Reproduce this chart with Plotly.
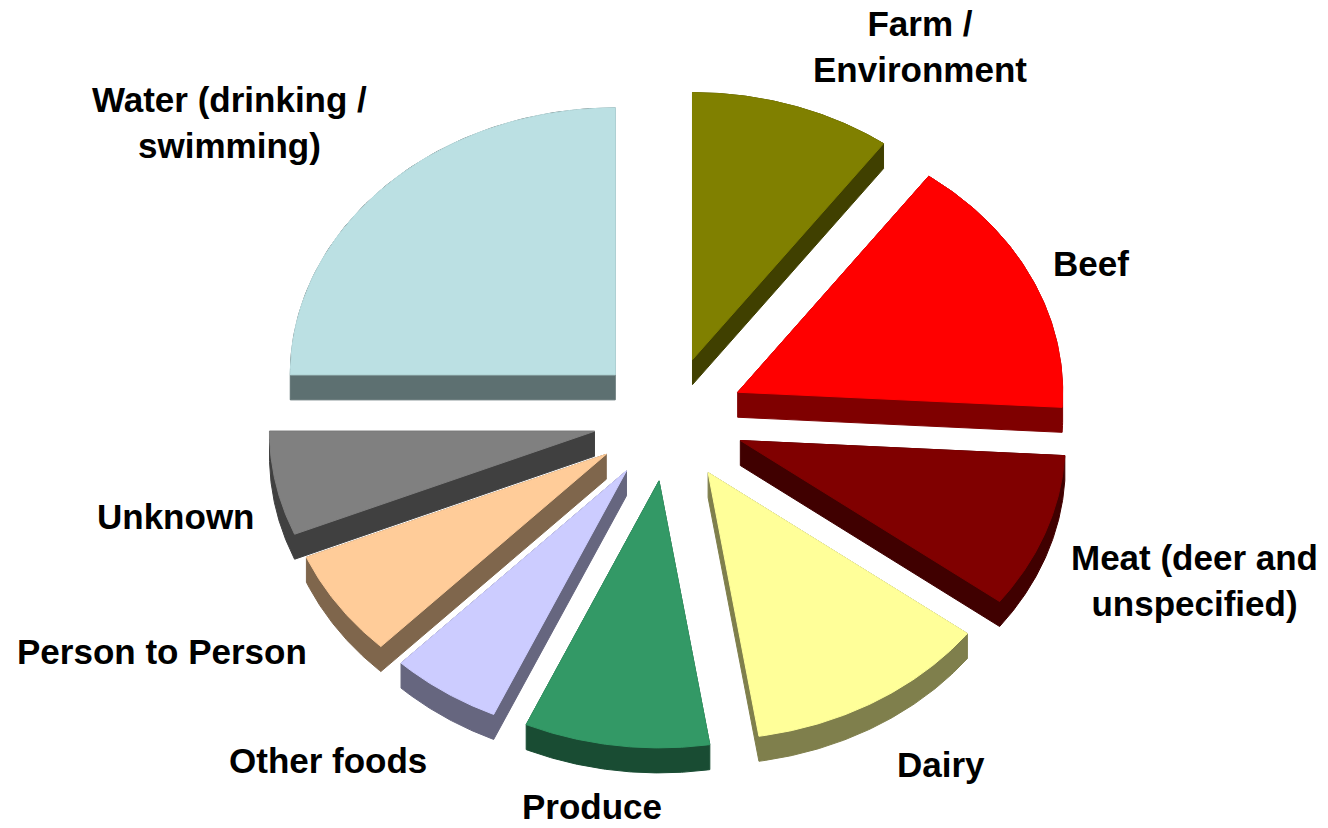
import numpy as np
import plotly.graph_objects as go

# ---- data ----
categories = ["Farm /<br>Environment", "Beef", "Meat (deer and<br>unspecified)", "Dairy",
              "Produce", "Other foods", "Person to Person", "Unknown",
              "Water (drinking /<br>swimming)"]
shares = [10.0, 15.9, 9.4, 12.2, 9.2, 5.5, 6.5, 6.3, 25.0]
colors = ["#808000", "#FF0000", "#800000", "#FFFF99", "#339966", "#CCCCFF",
          "#FFCC99", "#808080", "#BBE0E3"]

# ---- geometry / style (layout only) ----
W, H = 1328, 828
CX, CY = 669, 419
RX, RY = 325, 267
EXPLODE = 76
DEPTH = 25
label_pos = [(920, 46), (1091, 263), (1194, 580), (941, 764), (592, 806),
             (328, 760), (162, 651), (175, 516), (229, 122)]
FONT = dict(family="Liberation Sans, Arial, sans-serif", size=35, color="black")


def darken(hexc, f=0.5):
    h = hexc.lstrip("#")
    r, g, b = (int(h[i:i + 2], 16) for i in (0, 2, 4))
    return "rgb(%d,%d,%d)" % (r * f, g * f, b * f)


def hull(pts):
    pts = sorted(set(pts))
    def cross(o, a, b):
        return (a[0] - o[0]) * (b[1] - o[1]) - (a[1] - o[1]) * (b[0] - o[0])
    lower, upper = [], []
    for p in pts:
        while len(lower) >= 2 and cross(lower[-2], lower[-1], p) <= 0:
            lower.pop()
        lower.append(p)
    for p in reversed(pts):
        while len(upper) >= 2 and cross(upper[-2], upper[-1], p) <= 0:
            upper.pop()
        upper.append(p)
    return lower[:-1] + upper[:-1]


total = sum(shares)
bounds = np.concatenate([[0], np.cumsum(shares)]) / total * 2 * np.pi
slices = []
for i, (cat, val, col) in enumerate(zip(categories, shares, colors)):
    a0, a1 = bounds[i], bounds[i + 1]
    mid = (a0 + a1) / 2
    ox = CX + EXPLODE * np.sin(mid)
    oy = CY - EXPLODE * (RY / RX) * np.cos(mid)
    th = np.linspace(a0, a1, 80)
    xs = np.concatenate([[ox], ox + RX * np.sin(th), [ox]])
    ys = np.concatenate([[oy], oy - RY * np.cos(th), [oy]])
    slices.append((mid, xs, ys, col, cat))

fig = go.Figure()
# painter's order: back (upper) slices first
order = sorted(range(len(slices)), key=lambda k: -np.cos(slices[k][0]))
for k in order:
    _, xs, ys, col, cat = slices[k]
    pts = [(round(float(x), 3), round(float(y), 3)) for x, y in zip(xs, ys)]
    pts += [(x, round(y + DEPTH, 3)) for x, y in pts]
    hp = hull(pts)
    hx = [p[0] for p in hp] + [hp[0][0]]
    hy = [p[1] for p in hp] + [hp[0][1]]
    side = darken(col)
    fig.add_trace(go.Scatter(x=hx, y=hy, fill="toself", fillcolor=side, mode="lines",
                             line=dict(color=side, width=1), hoverinfo="skip", showlegend=False))
    fig.add_trace(go.Scatter(x=xs, y=ys, fill="toself", fillcolor=col, mode="lines",
                             line=dict(color=col, width=1), name=cat.replace("<br>", " "),
                             hoverinfo="name", showlegend=False))

for cat, (lx, ly) in zip(categories, label_pos):
    fig.add_annotation(x=lx, y=ly, text="<b>%s</b>" % cat, showarrow=False,
                       xanchor="center", yanchor="middle", align="center", font=FONT)

fig.update_layout(
    width=W, height=H, margin=dict(l=0, r=0, t=0, b=0),
    paper_bgcolor="white", plot_bgcolor="white",
    xaxis=dict(range=[0, W], visible=False, fixedrange=True),
    yaxis=dict(range=[H, 0], visible=False, fixedrange=True),
)
fig.write_html("out.html")
